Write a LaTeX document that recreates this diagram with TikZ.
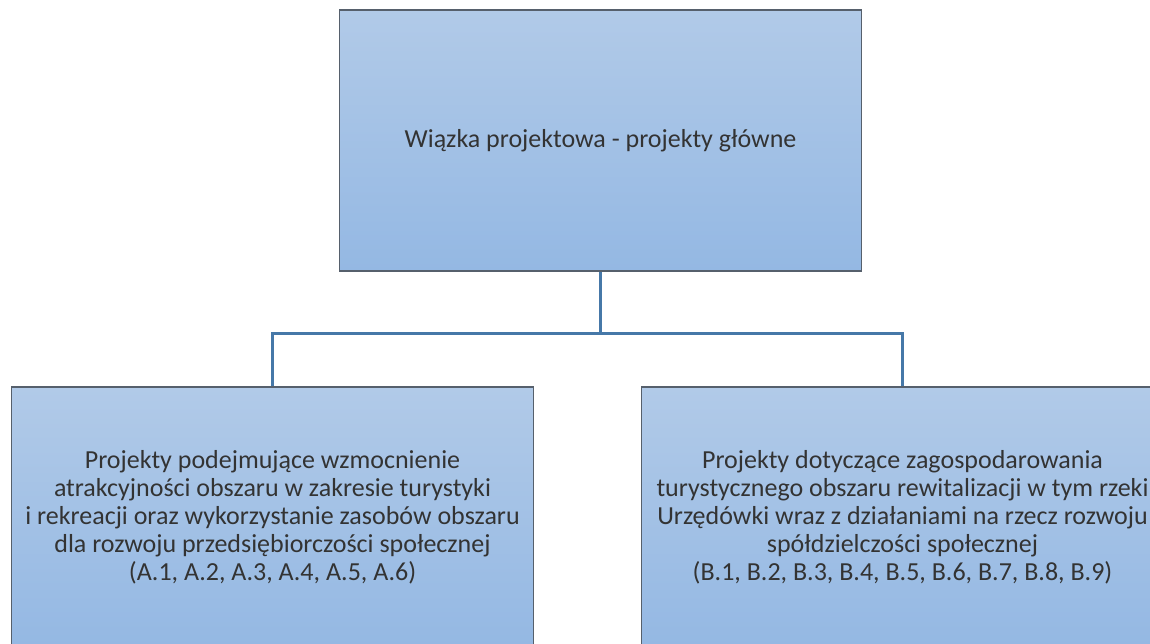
\documentclass[tikz,border=0pt]{standalone}
\usepackage{fontspec}
\setmainfont{Carlito}
\definecolor{boxtop}{HTML}{B1CAE8}
\definecolor{boxbot}{HTML}{94B8E3}
\definecolor{boxline}{HTML}{56606C}
\definecolor{conn}{HTML}{4678A8}
\tikzset{
  pbox/.style={draw=boxline, line width=1.2pt, top color=boxtop, bottom color=boxbot,
    minimum width=522pt, minimum height=261pt, inner sep=0pt, align=center,
    font=\fontsize{26}{28}\selectfont, text=black!80},
  link/.style={draw=conn, line width=3pt}
}
\begin{document}
\begin{tikzpicture}[x=1pt,y=-1pt]
\useasboundingbox (0,0) rectangle (1150,644);
\clip (0,0) rectangle (1150,644);
\node[pbox] (top) at (600.5,140.5) {Wiązka projektowa - projekty główne};
\node[pbox] (left) at (272.5,517.5) {Projekty podejmujące wzmocnienie\\atrakcyjności obszaru w zakresie turystyki\\i rekreacji oraz wykorzystanie zasobów obszaru\\dla rozwoju przedsiębiorczości społecznej\\(A.1, A.2, A.3, A.4, A.5, A.6)};
\node[pbox] (right) at (902.5,517.5) {Projekty dotyczące zagospodarowania\\turystycznego obszaru rewitalizacji w tym rzeki\\Urzędówki wraz z działaniami na rzecz rozwoju\\spółdzielczości społecznej\\(B.1, B.2, B.3, B.4, B.5, B.6, B.7, B.8, B.9)};
\coordinate (mid) at (600.5,333);
\draw[link] (top.south) -- (mid);
\draw[link] (left.north) |- (mid) -| (right.north);
\end{tikzpicture}
\end{document}
